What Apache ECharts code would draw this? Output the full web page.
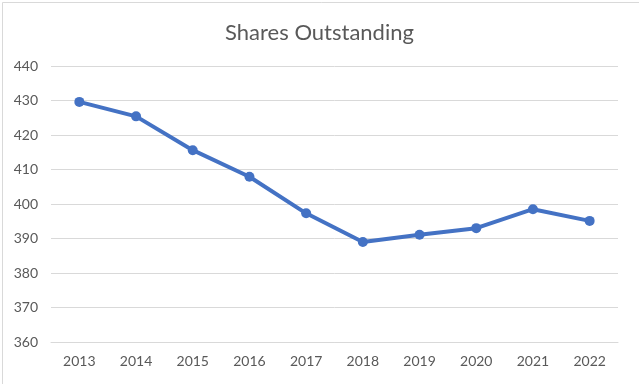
<!DOCTYPE html>
<html><head><meta charset="utf-8">
<script src="https://cdn.jsdelivr.net/npm/echarts@6/dist/echarts.min.js"></script>
<style>html,body{margin:0;padding:0;background:#fff}#c{width:639px;height:384px}</style>
</head><body><div id="c"></div>
<script>
const title = "Shares Outstanding";
const years = ["2013","2014","2015","2016","2017","2018","2019","2020","2021","2022"];
const shares = [429.6, 425.4, 415.6, 407.9, 397.3, 389.0, 391.1, 393.0, 398.5, 395.1];
const yMin = 360, yMax = 440, yStep = 10;

const chart = echarts.init(document.getElementById('c'), null, {renderer:'canvas'});
chart.setOption({
  animation:false,
  backgroundColor:'#ffffff',
  graphic:[{type:'rect', left:0, top:0, shape:{x:0.5,y:0.5,width:638,height:383}, style:{fill:'none', stroke:'#d9d9d9', lineWidth:1}, silent:true}],
  title:{text:title, left:'center', top:17, textStyle:{fontFamily:'Lato', fontSize:22, fontWeight:'normal', color:'#595959'}},
  grid:{left:51, right:21, top:66, bottom:42, containLabel:false},
  xAxis:{type:'category', data:years, boundaryGap:true,
    axisLine:{show:true, lineStyle:{color:'#d9d9d9', width:1}}, axisTick:{show:false},
    axisLabel:{color:'#595959', fontFamily:'Lato', fontSize:14, margin:12}},
  yAxis:{type:'value', min:yMin, max:yMax, interval:yStep,
    axisLine:{show:false}, axisTick:{show:false},
    splitLine:{lineStyle:{color:'#d9d9d9', width:1}},
    axisLabel:{color:'#595959', fontFamily:'Lato', fontSize:14, margin:13}},
  series:[{type:'line', data:shares, symbol:'circle', symbolSize:10,
    lineStyle:{color:'#4472C4', width:4}, itemStyle:{color:'#4472C4'}}]
});
</script></body></html>
